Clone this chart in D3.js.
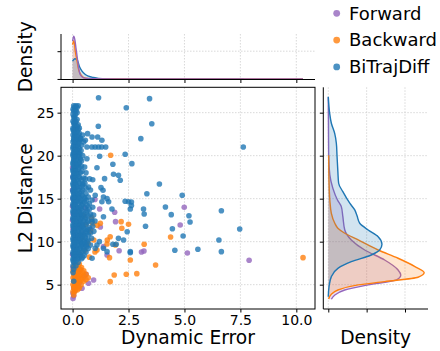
<!DOCTYPE html>
<html>
<head>
<meta charset="utf-8">
<script src="https://cdn.jsdelivr.net/npm/d3@7"></script>
<style>
  body { margin: 0; background: #fff; }
  svg { display: block; font-family: "DejaVu Sans", sans-serif; }
</style>
</head>
<body>
<div id="chart"></div>
<script>
// series names + colours
const seriesNames = ['Forward', 'Backward', 'BiTrajDiff'];
const seriesColors = ['#9467bd', '#ff7f0e', '#1f77b4'];

// tick labels
const xTicks = [0, 2.5, 5, 7.5, 10];
const yTicks = [5, 10, 15, 20, 25];
const topDensTicks = [0, 1];
const rightDensTicks = [0, 0.1, 0.2];

// scatter points [dynamic error, L2 distance]
const forwardPts = [
  [0.02,3.4],[0.05,3.7],[0.02,4.0],[0.1,4.3],[0.05,4.6],[0.2,4.9],[0.42,4.58],[0.71,5.16],[0.94,5.55],
  [0.3,5.2],[0.15,5.6],[0.34,6.7],[0.02,7.0],[0.6,6.2],[0.5,5.9],
  [0.0,8.5],[0.05,9.4],[0.1,10.6],[0.02,11.5],[0.0,12.5],[0.03,13.2],[0.0,14.1],[0.02,15.0],
  [0.0,16.0],[0.02,17.5],[0.0,18.6],[0.3,12.0],[0.45,10.9],[0.6,9.7],[0.8,11.4],
  [0.57,13.9],[1.0,14.9],[1.21,13.8],[1.88,13.42],[1.24,11.7],[1.38,9.42],[1.54,8.45],[1.92,12.33],
  [2.08,8.95],[3.08,8.8],[3.19,8.92],[4.81,11.94],[4.99,14.0],[5.13,8.69],[7.89,7.84]
];
const backwardPts = [
  [0.1,7.4],[0.3,7.4],[0.05,7.0],[0.2,7.0],[0.4,7.0],[0.02,6.6],[0.15,6.6],[0.3,6.6],[0.5,6.6],
  [0.05,6.2],[0.2,6.2],[0.35,6.2],[0.6,6.2],[0.02,5.8],[0.12,5.8],[0.25,5.8],[0.4,5.8],[0.7,5.8],
  [0.05,5.4],[0.18,5.4],[0.3,5.4],[0.5,5.4],[0.02,5.0],[0.1,5.0],[0.22,5.0],[0.38,5.0],
  [0.05,4.6],[0.15,4.6],[0.3,4.6],[0.02,4.2],[0.1,4.2],[0.05,3.8],
  [0.08,7.2],[0.25,7.2],[0.12,6.8],[0.35,6.8],[0.08,6.4],[0.25,6.4],[0.45,6.4],[0.08,6.0],[0.3,6.0],
  [0.5,6.0],[0.08,5.6],[0.25,5.6],[0.4,5.6],[0.6,5.6],[0.15,5.2],[0.08,4.8],[0.25,4.8],[0.12,4.4],[0.22,4.4],
  [0.35,8.5],[0.55,9.0],[0.7,9.8],[0.45,10.5],[0.8,11.2],[0.6,12.0],[0.95,10.2],[0.3,11.8],
  [0.5,13.0],[0.75,8.2],[1.0,8.8],[0.85,12.8],[0.9,12.1],[1.1,11.9],[1.55,10.2],
  [1.7,20.05],[1.24,12.14],[2.17,12.33],[2.5,12.02],[2.2,11.56],[1.68,10.58],[1.54,9.73],[1.91,9.62],
  [1.09,9.03],[1.65,8.14],[2.58,7.87],[1.86,6.13],[1.68,5.35],[2.4,6.21],[2.87,6.28],
  [4.38,10.55],[3.2,9.7],[3.71,7.29],[10.3,8.14]
];
const biTrajPts = [
  // dense column
  [0.05,25.8],[0.15,25.8],[0.25,25.8],[0.02,25.4],[0.12,25.4],[0.2,25.0],[0.05,24.5],[0.1,24.5],
  [0.02,24.0],[0.15,24.0],[0.08,23.6],[0.25,23.6],[0.02,23.2],[0.15,23.2],[0.3,23.2],[0.05,22.8],[0.2,22.8],
  [0.02,22.4],[0.1,22.4],[0.28,22.4],[0.45,22.4],[0.05,22.0],[0.18,22.0],[0.35,22.0],
  [0.02,21.6],[0.12,21.6],[0.25,21.6],[0.5,21.6],[0.05,21.2],[0.2,21.2],[0.4,21.2],
  [0.02,20.8],[0.1,20.8],[0.3,20.8],[0.05,20.4],[0.18,20.4],[0.28,20.4],
  [0.02,20.0],[0.12,20.0],[0.25,20.0],[0.45,20.0],[0.05,19.6],[0.2,19.6],[0.35,19.6],
  [0.02,19.2],[0.1,19.2],[0.3,19.2],[0.05,18.8],[0.18,18.8],[0.4,18.8],
  [0.02,18.4],[0.12,18.4],[0.25,18.4],[0.05,18.0],[0.2,18.0],[0.35,18.0],[0.6,18.0],
  [0.02,17.6],[0.1,17.6],[0.28,17.6],[0.05,17.2],[0.18,17.2],[0.4,17.2],[0.9,17.2],
  [0.02,16.8],[0.12,16.8],[0.3,16.8],[0.55,16.8],[0.05,16.4],[0.2,16.4],[0.38,16.4],
  [0.02,16.0],[0.1,16.0],[0.25,16.0],[0.45,16.0],[0.8,16.0],[0.05,15.6],[0.18,15.6],[0.32,15.6],[0.6,15.6],
  [0.02,15.2],[0.12,15.2],[0.28,15.2],[0.5,15.2],[0.7,15.2],[0.05,14.8],[0.2,14.8],[0.38,14.8],[0.62,14.8],
  [0.02,14.4],[0.1,14.4],[0.25,14.4],[0.45,14.4],[0.75,14.4],[0.05,14.0],[0.18,14.0],[0.32,14.0],[0.55,14.0],[0.9,14.0],
  [0.02,13.6],[0.12,13.6],[0.28,13.6],[0.42,13.6],[0.65,13.6],[0.05,13.2],[0.2,13.2],[0.35,13.2],[0.5,13.2],[0.8,13.2],
  [0.02,12.8],[0.1,12.8],[0.25,12.8],[0.4,12.8],[0.6,12.8],
  [0.05,12.4],[0.18,12.4],[0.32,12.4],[0.48,12.4],[0.7,12.4],[1.0,12.4],
  [0.02,12.0],[0.12,12.0],[0.28,12.0],[0.42,12.0],[0.58,12.0],[0.05,11.6],[0.2,11.6],[0.35,11.6],[0.5,11.6],[0.75,11.6],
  [0.02,11.2],[0.1,11.2],[0.25,11.2],[0.4,11.2],[0.62,11.2],[0.95,11.2],
  [0.05,10.8],[0.18,10.8],[0.32,10.8],[0.48,10.8],[0.7,10.8],
  [0.02,10.4],[0.12,10.4],[0.28,10.4],[0.42,10.4],[0.58,10.4],[0.85,10.4],
  [0.05,10.0],[0.2,10.0],[0.35,10.0],[0.5,10.0],[0.65,10.0],
  [0.02,9.6],[0.1,9.6],[0.25,9.6],[0.4,9.6],[0.6,9.6],[0.8,9.6],
  [0.05,9.2],[0.18,9.2],[0.32,9.2],[0.48,9.2],[0.7,9.2],
  [0.02,8.8],[0.12,8.8],[0.28,8.8],[0.42,8.8],[0.6,8.8],
  [0.05,8.4],[0.2,8.4],[0.35,8.4],[0.52,8.4],[0.02,8.0],[0.1,8.0],[0.25,8.0],[0.4,8.0],
  [0.05,7.6],[0.25,7.6],[0.02,7.2],[0.15,7.2],[0.05,6.8],[0.02,6.4],[0.05,5.4],
  // in-between rows of the column
  [0.08,25.6],[0.2,25.6],[0.05,25.2],[0.15,25.2],[0.02,24.8],[0.12,24.8],[0.08,24.2],[0.2,24.2],
  [0.05,23.8],[0.12,23.8],[0.1,23.4],[0.22,23.4],[0.02,23.0],[0.1,23.0],[0.25,23.0],[0.1,22.6],[0.3,22.6],
  [0.08,22.2],[0.22,22.2],[0.05,21.8],[0.18,21.8],[0.32,21.8],[0.1,21.4],[0.28,21.4],
  [0.02,21.0],[0.15,21.0],[0.25,21.0],[0.1,20.6],[0.22,20.6],[0.38,20.6],[0.02,20.2],[0.1,20.2],[0.32,20.2],
  [0.08,19.8],[0.28,19.8],[0.05,19.4],[0.15,19.4],[0.4,19.4],[0.02,19.0],[0.2,19.0],[0.28,19.0],
  [0.08,18.6],[0.3,18.6],[0.02,18.2],[0.15,18.2],[0.42,18.2],[0.08,17.8],[0.22,17.8],
  [0.02,17.4],[0.12,17.4],[0.32,17.4],[0.5,17.4],[0.08,17.0],[0.25,17.0],[0.02,16.6],[0.15,16.6],[0.45,16.6],
  [0.08,16.2],[0.3,16.2],[0.6,16.2],[0.02,15.8],[0.12,15.8],[0.4,15.8],[0.08,15.4],[0.25,15.4],[0.42,15.4],
  [0.02,15.0],[0.12,15.0],[0.3,15.0],[0.55,15.0],[0.08,14.6],[0.15,14.6],[0.35,14.6],[0.52,14.6],
  [0.02,14.2],[0.12,14.2],[0.4,14.2],[0.65,14.2],[0.08,13.8],[0.22,13.8],[0.38,13.8],[0.75,13.8],
  [0.02,13.4],[0.12,13.4],[0.28,13.4],[0.6,13.4],[0.08,13.0],[0.3,13.0],[0.45,13.0],[0.7,13.0],
  [0.02,12.6],[0.14,12.6],[0.35,12.6],[0.55,12.6],[0.85,12.6],[0.08,12.2],[0.22,12.2],[0.38,12.2],[0.65,12.2],
  [0.02,11.8],[0.15,11.8],[0.3,11.8],[0.45,11.8],[0.9,11.8],[0.08,11.4],[0.28,11.4],[0.55,11.4],[0.7,11.4],
  [0.02,11.0],[0.12,11.0],[0.38,11.0],[0.6,11.0],[0.8,11.0],[0.08,10.6],[0.25,10.6],[0.4,10.6],[0.55,10.6],
  [0.02,10.2],[0.15,10.2],[0.32,10.2],[0.7,10.2],[0.08,9.8],[0.3,9.8],[0.45,9.8],[0.55,9.8],
  [0.02,9.4],[0.12,9.4],[0.38,9.4],[0.62,9.4],[0.08,9.0],[0.22,9.0],[0.5,9.0],
  [0.02,8.6],[0.15,8.6],[0.3,8.6],[0.08,8.2],[0.3,8.2],[0.45,8.2],[0.02,7.8],[0.15,7.8],
  // spread
  [1.16,26.74],[2.4,25.58],[1.15,23.42],[0.67,22.56],[0.87,22.17],[0.37,21.98],[0.57,21.79],
  [1.12,22.17],[1.31,21.79],[0.64,21.0],[0.86,21.0],[1.01,21.0],[1.16,21.0],[1.3,21.0],[1.48,21.0],
  [0.64,19.65],[1.21,19.93],[2.35,20.16],[0.54,18.69],[1.09,18.6],[1.8,19.0],[1.83,17.84],[2.05,17.72],
  [1.43,17.33],[2.13,17.14],[0.57,17.3],[0.76,17.3],[1.27,16.28],[1.36,15.98],[0.71,16.36],[0.46,16.74],
  [1.01,15.4],[1.38,15.2],[1.54,15.0],[2.35,14.7],[0.87,14.85],[1.31,14.65],[1.61,14.65],[1.76,13.8],
  [2.5,14.65],[2.58,13.8],[0.94,13.1],[1.38,12.9],[0.87,12.33],[2.05,10.4],[2.28,10.2],[1.09,9.62],
  [1.01,9.23],[1.38,9.23],[2.58,8.84],[1.54,8.84],[0.87,8.07],[1.8,9.7],[1.95,9.7],[1.2,10.0],
  // outliers
  [3.44,26.63],[3.54,23.72],[3.05,21.98],[7.63,21.01],[2.65,19.07],[3.88,16.71],[3.32,15.58],[4.9,15.4],
  [2.63,14.6],[2.63,14.2],[4.15,14.03],[3.17,13.8],[3.2,13.22],[4.41,13.14],[5.2,13.02],[5.25,12.29],
  [6.65,13.6],[3.26,11.79],[4.46,11.51],[7.47,11.48],[2.44,11.16],[4.94,10.66],[6.54,10.2],[4.57,9.0],
  [5.6,9.11],[6.65,8.84],[2.58,8.72]
];
const scatterSeries = [forwardPts, backwardPts, biTrajPts];

// marginal density: top [error, density], right [L2, density]
const forwardTop = [[0,1.36],[0.05,1.54],[0.1,1.42],[0.15,1.12],[0.21,0.76],[0.27,0.40],[0.34,0.16],[0.49,0.04],[0.8,0.01],[2,0.004],[5,0.002],[10.3,0.001]];
const backwardTop = [[0,1.24],[0.06,1.38],[0.12,1.0],[0.2,0.64],[0.27,0.34],[0.39,0.13],[0.57,0.03],[1,0.01],[3,0.004],[6,0.002],[10.3,0.001]];
const biTrajTop = [[0,0.64],[0.1,0.73],[0.2,0.70],[0.3,0.46],[0.42,0.28],[0.57,0.16],[0.71,0.10],[0.94,0.05],[1.16,0.02],[1.5,0.006],[3,0.003],[5,0.002],[7.65,0.001]];

const forwardRight = [[3.3,0.008],[3.8,0.017],[4.38,0.043],[4.97,0.104],[5.55,0.178],[6.13,0.189],[6.71,0.182],[7.87,0.147],[9.03,0.095],[10.2,0.06],[11.36,0.043],[12.9,0.038],[14.07,0.034],[14.85,0.024],[16.2,0.012],[17.76,0.004],[20,0.001],[23,0.0005],[26.8,0]];
const backwardRight = [[3.34,0.001],[3.88,0.008],[4.38,0.025],[4.97,0.078],[5.35,0.147],[5.86,0.234],[6.4,0.25],[7.1,0.226],[8.07,0.182],[9.03,0.13],[10.2,0.078],[10.98,0.043],[11.56,0.025],[12.14,0.017],[13.3,0.008],[14.85,0.004],[17,0.002],[20.04,0.001]];
const biTrajRight = [[3.6,0],[4.77,0.002],[5.93,0.008],[6.9,0.025],[7.67,0.06],[8.45,0.112],[9.03,0.134],[9.7,0.140],[10.58,0.13],[11.36,0.104],[12.14,0.082],[13.0,0.075],[13.69,0.069],[14.47,0.056],[15.81,0.038],[16.79,0.027],[18.14,0.025],[20.08,0.0227],[21.44,0.021],[22.6,0.0167],[23.77,0.008],[24.93,0.0036],[26.86,0]];

const topCurves = [forwardTop, backwardTop, biTrajTop];
const rightCurves = [forwardRight, backwardRight, biTrajRight];

const W = 440, H = 351;
const svg = d3.select('#chart').append('svg').attr('width', W).attr('height', H);

const main = {left: 61, right: 315, top: 87.3, bottom: 309};
const topBox = {top: 34, bottom: 79.5};
const rightBox = {left: 323.3, right: 428};

const x = d3.scaleLinear().domain([-0.518, 10.835]).range([main.left, main.right]);
const y = d3.scaleLinear().domain([2.17, 27.95]).range([main.bottom, main.top]);
const yTop = d3.scaleLinear().domain([-0.02, 1.62]).range([topBox.bottom, topBox.top]);
const xRight = d3.scaleLinear().domain([-0.013, 0.26]).range([rightBox.left, rightBox.right]);

const gridStyle = sel => sel.attr('stroke', '#cfcfcf').attr('stroke-width', 0.8).attr('stroke-dasharray', '1.5,1.5');

// --- main scatter panel ---
const gMain = svg.append('g');
gMain.selectAll('.gx').data(xTicks).enter().append('line').call(gridStyle)
  .attr('x1', d => x(d)).attr('x2', d => x(d)).attr('y1', main.top).attr('y2', main.bottom);
gMain.selectAll('.gy').data(yTicks).enter().append('line').call(gridStyle)
  .attr('x1', main.left).attr('x2', main.right).attr('y1', d => y(d)).attr('y2', d => y(d));

scatterSeries.forEach((pts, i) => {
  gMain.append('g').selectAll('circle').data(pts).enter().append('circle')
    .attr('cx', d => x(d[0])).attr('cy', d => y(d[1])).attr('r', 2.8)
    .attr('fill', seriesColors[i]).attr('fill-opacity', 0.8);
});

gMain.append('rect').attr('x', main.left).attr('y', main.top)
  .attr('width', main.right - main.left).attr('height', main.bottom - main.top)
  .attr('fill', 'none').attr('stroke', '#000').attr('stroke-width', 1);

gMain.append('g').attr('transform', `translate(0,${main.bottom})`)
  .call(d3.axisBottom(x).tickValues(xTicks).tickFormat(d3.format('.1f')).tickSizeOuter(0).tickSize(3.5).tickPadding(3))
  .call(g => g.select('.domain').remove())
  .selectAll('text').attr('font-size', '14px').attr('fill', '#000').attr('font-family', 'DejaVu Sans');
gMain.append('g').attr('transform', `translate(${main.left},0)`)
  .call(d3.axisLeft(y).tickValues(yTicks).tickSizeOuter(0).tickSize(3.5).tickPadding(3))
  .call(g => g.select('.domain').remove())
  .selectAll('text').attr('font-size', '14px').attr('fill', '#000').attr('font-family', 'DejaVu Sans');

// --- top marginal ---
const gTop = svg.append('g');
gTop.selectAll('.gx').data(xTicks).enter().append('line').call(gridStyle)
  .attr('x1', d => x(d)).attr('x2', d => x(d)).attr('y1', topBox.top).attr('y2', topBox.bottom);
gTop.append('line').call(gridStyle)
  .attr('x1', main.left).attr('x2', main.right).attr('y1', yTop(1)).attr('y2', yTop(1));

const areaTop = d3.area().x(d => x(d[0])).y0(yTop(0)).y1(d => yTop(d[1])).curve(d3.curveMonotoneX);
const lineTop = d3.line().x(d => x(d[0])).y(d => yTop(d[1])).curve(d3.curveMonotoneX);
topCurves.forEach((c, i) => {
  gTop.append('path').datum(c).attr('d', areaTop).attr('fill', seriesColors[i]).attr('fill-opacity', 0.2);
});
// lines drawn last-to-first so Forward sits on top
[2, 1, 0].forEach(i => {
  gTop.append('path').datum(topCurves[i]).attr('d', lineTop).attr('fill', 'none').attr('stroke', seriesColors[i]).attr('stroke-width', 1.4);
});

gTop.append('g').attr('transform', `translate(0,${topBox.bottom})`)
  .call(d3.axisBottom(x).tickValues(xTicks).tickFormat('').tickSizeOuter(0).tickSize(3.5))
  .call(g => g.select('.domain').attr('d', `M${main.left},0H${main.right}`));
gTop.append('g').attr('transform', `translate(${main.left},0)`)
  .call(d3.axisLeft(yTop).tickValues(topDensTicks).tickFormat('').tickSizeOuter(0).tickSize(3.5))
  .call(g => g.select('.domain').attr('d', `M0,${topBox.top}V${topBox.bottom}`));

// --- right marginal ---
const gRight = svg.append('g');
gRight.selectAll('.gx').data(rightDensTicks).enter().append('line').call(gridStyle)
  .attr('x1', d => xRight(d)).attr('x2', d => xRight(d)).attr('y1', main.top).attr('y2', main.bottom);
gRight.selectAll('.gy').data(yTicks).enter().append('line').call(gridStyle)
  .attr('x1', rightBox.left).attr('x2', rightBox.right).attr('y1', d => y(d)).attr('y2', d => y(d));

const areaRight = d3.area().y(d => y(d[0])).x0(xRight(0)).x1(d => xRight(d[1])).curve(d3.curveMonotoneY);
const lineRight = d3.line().y(d => y(d[0])).x(d => xRight(d[1])).curve(d3.curveMonotoneY);
rightCurves.forEach((c, i) => {
  gRight.append('path').datum(c).attr('d', areaRight).attr('fill', seriesColors[i]).attr('fill-opacity', 0.2);
  gRight.append('path').datum(c).attr('d', lineRight).attr('fill', 'none').attr('stroke', seriesColors[i]).attr('stroke-width', 1.4);
});

gRight.append('g').attr('transform', `translate(0,${main.bottom})`)
  .call(d3.axisBottom(xRight).tickValues(rightDensTicks).tickFormat('').tickSizeOuter(0).tickSize(3.5))
  .call(g => g.select('.domain').attr('d', `M${rightBox.left},0H${rightBox.right}`));
gRight.append('g').attr('transform', `translate(${rightBox.left},0)`)
  .call(d3.axisLeft(y).tickValues(yTicks).tickFormat('').tickSizeOuter(0).tickSize(3.5))
  .call(g => g.select('.domain').attr('d', `M0,${main.top}V${main.bottom}`));

// --- axis titles ---
const label = (txt, tx, ty, rot) => svg.append('text')
  .attr('transform', `translate(${tx},${ty}) rotate(${rot})`)
  .attr('text-anchor', 'middle').attr('font-size', '18.7px').attr('fill', '#000').text(txt);
label('Dynamic Error', (main.left + main.right) / 2, 344, 0);
label('L2 Distance', 32, (main.top + main.bottom) / 2, -90);
label('Density', 32, (topBox.top + topBox.bottom) / 2, -90);
label('Density', (rightBox.left + rightBox.right) / 2, 344, 0);

// --- legend ---
const legend = svg.append('g');
seriesNames.forEach((name, i) => {
  const ly = 13.3 + i * 26.8;
  legend.append('circle').attr('cx', 336.7).attr('cy', ly).attr('r', 3.4)
    .attr('fill', seriesColors[i]).attr('fill-opacity', 0.8);
  legend.append('text').attr('x', 349).attr('y', ly + 6.3).attr('font-size', '18px').attr('fill', '#000').text(name);
});
</script>
</body>
</html>
